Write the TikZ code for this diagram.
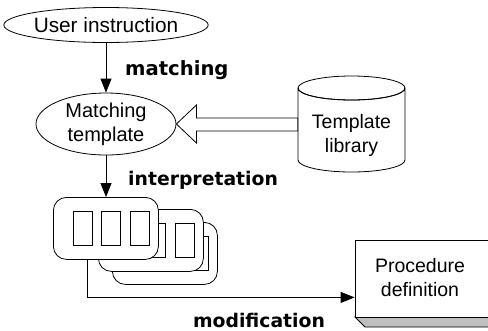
\documentclass[tikz,border=0pt]{standalone}
\usepackage{fontspec}
\setmainfont{Liberation Sans}
\newfontfamily\labelfont{DejaVu Sans}
\usetikzlibrary{shapes.geometric,arrows.meta,calc}
\tikzset{
  nodetext/.style={font=\fontsize{19.5bp}{24bp}\selectfont, align=center, inner sep=0pt},
  lbl/.style={font=\labelfont\bfseries\fontsize{18.8bp}{22bp}\selectfont, inner sep=0pt},
  ell/.style={ellipse, draw, line width=0.8bp, inner sep=0pt, nodetext},
  arr/.style={-{Triangle[length=14bp,width=11bp]}, line width=0.8bp},
  card/.style={draw, fill=white, rounded corners=13bp, line width=0.8bp, anchor=north west,
    minimum width=105bp, minimum height=62bp, inner sep=0pt},
  thin/.style={line width=0.8bp}
}
\begin{document}
\begin{tikzpicture}[x=1bp,y=-1bp]
\useasboundingbox (0,0) rectangle (488,330);
\clip (0,0) rectangle (488,330);

% ellipses
\node[ell, minimum width=192bp, minimum height=35bp, font=\fontsize{20.8bp}{24bp}\selectfont] (user) at (106,25) {User instruction};
\node[ell, minimum width=140bp, minimum height=62bp, font=\fontsize{20bp}{24bp}\selectfont] (match) at (106,124) {Matching\\template};

% cylinder
\node[minimum width=107bp, minimum height=96bp, inner sep=0pt] (lib) at (351.5,124) {};
\draw[thin, fill=white] (298,88) -- (298,160) arc[start angle=180, end angle=360, x radius=53.5, y radius=-12] -- (405,88)
  arc[start angle=0, end angle=360, x radius=53.5, y radius=-12];
\draw[thin] (298,88) arc[start angle=180, end angle=360, x radius=53.5, y radius=-12];
\node[nodetext] (libtext) at (351.5,135) {Template\\library};

% hollow arrow
\draw[thin, fill=white] (match.east) -- ++(20,-19) -- ++(0,13) -- ($(lib.west)+(0,-6)$)
  -- ($(lib.west)+(0,7)$) -- ($(match.east)+(20,7)$) -- ++(0,12) -- cycle;

% cards
\foreach \n/\x/\y in {card3/112/222, card2/98/209, card1/53/197} {
  \node[card] (\n) at (\x,\y) {};
  \foreach \d in {20,48,77}
    \draw[thin] ($(\n.north west)+(\d,14)$) rectangle ++(19,34);
}

% procedure box
\draw[thin, fill=black!25] (355,317) -- (365,327) -- (495,327) -- (495,317) -- cycle;
\node[draw, thin, fill=white, minimum width=140bp, minimum height=77bp, inner sep=0pt] (proc) at (425,278.5) {};
\node[nodetext] (proctext) at (420,278) {Procedure\\definition};

% arrows
\draw[arr] (user) -- (match);
\draw[arr] (match) -- (match |- card1.north);
\draw[arr] ($(card1.south west)+(34,0)$) |- ($(proc.south west)+(0,-20)$);

% labels
\node[lbl, anchor=west, font=\labelfont\bfseries\fontsize{19.6bp}{22bp}\selectfont] (l1) at (125,70) {matching};
\node[lbl, anchor=west] (l2) at (128,180) {interpretation};
\node[lbl] (l3) at (259,320) {modification};
\end{tikzpicture}
\end{document}
